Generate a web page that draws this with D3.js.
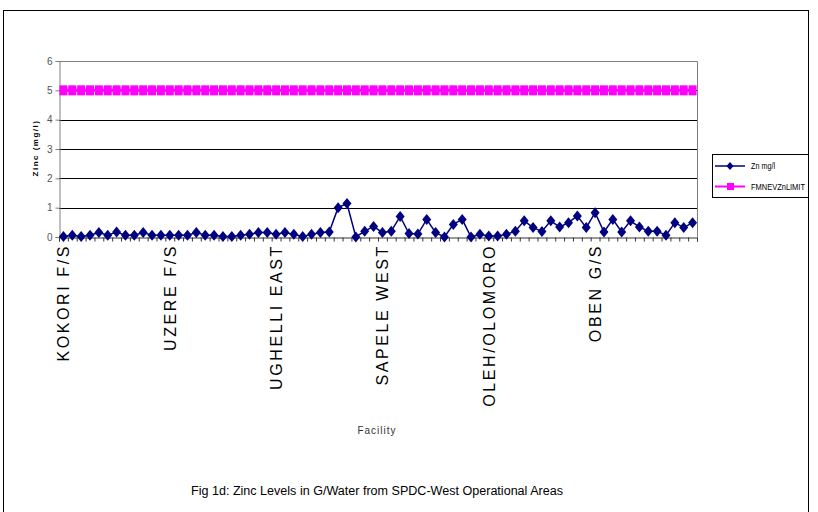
<!DOCTYPE html>
<html>
<head>
<meta charset="utf-8">
<script src="https://cdn.jsdelivr.net/npm/d3@7"></script>
<style>
  html, body { margin: 0; padding: 0; background: #fff; }
  svg { display: block; font-family: "Liberation Sans", Arial, sans-serif; }
</style>
</head>
<body>
<svg id="chart" width="818" height="512"></svg>
<script>
// ---- data ----
const facilities = ["KOKORI F/S", "UZERE F/S", "UGHELLI EAST", "SAPELE WEST", "OLEH/OLOMORO", "OBEN G/S"];
const samplesPerFacility = 12;
const zincValues = [
  0.02, 0.06, 0.02, 0.06, 0.15, 0.06, 0.17, 0.06, 0.06, 0.15, 0.06, 0.06,
  0.06, 0.06, 0.06, 0.15, 0.06, 0.06, 0.02, 0.02, 0.06, 0.09, 0.15, 0.15,
  0.09, 0.15, 0.09, 0.02, 0.09, 0.15, 0.17, 1.00, 1.14, 0.00, 0.20, 0.36,
  0.15, 0.20, 0.70, 0.12, 0.10, 0.60, 0.15, 0.00, 0.43, 0.60, 0.00, 0.09,
  0.03, 0.03, 0.09, 0.20, 0.55, 0.32, 0.19, 0.55, 0.34, 0.49, 0.72, 0.32,
  0.83, 0.17, 0.60, 0.17, 0.55, 0.34, 0.20, 0.20, 0.06, 0.49, 0.32, 0.49
];
const limitValues = [
  5,5,5,5,5,5,5,5,5,5,5,5, 5,5,5,5,5,5,5,5,5,5,5,5,
  5,5,5,5,5,5,5,5,5,5,5,5, 5,5,5,5,5,5,5,5,5,5,5,5,
  5,5,5,5,5,5,5,5,5,5,5,5, 5,5,5,5,5,5,5,5,5,5,5,5
];
const yTicks = [0, 1, 2, 3, 4, 5, 6];
const seriesNames = ["Zn mg/l", "FMNEVZnLIMIT"];
const yTitle = "Zinc  (mg/l)";
const xTitle = "Facility";
const caption = "Fig 1d: Zinc Levels in G/Water from SPDC-West Operational Areas";

// ---- layout ----
const svg = d3.select("#chart");
const plot = { left: 59, right: 697, top: 61, bottom: 237 };
const navy = "#000080", magenta = "#FF00FF";

const x = d3.scaleLinear().domain([0, zincValues.length]).range([plot.left, plot.right]);
const y = d3.scaleLinear().domain([0, 6]).range([plot.bottom, plot.top]);
const cx = i => x(i + 0.5);

// outer chart border
svg.append("rect").attr("x", 3.5).attr("y", 10.5).attr("width", 805).attr("height", 510)
  .attr("fill", "none").attr("stroke", "#000").attr("stroke-width", 1);

// gridlines
svg.append("g").selectAll("line").data(yTicks.filter(t => t > 0 && t < 6)).join("line")
  .attr("x1", plot.left).attr("x2", plot.right)
  .attr("y1", d => Math.round(y(d)) + 0.5).attr("y2", d => Math.round(y(d)) + 0.5)
  .attr("stroke", "#000").attr("stroke-width", 1);

// plot border (top & right)
svg.append("path")
  .attr("d", `M${plot.left},${plot.top + 0.5}H${plot.right + 0.5}V${plot.bottom}`)
  .attr("fill", "none").attr("stroke", "#808080").attr("stroke-width", 1);

// y axis
const yAxis = d3.axisLeft(y).tickValues(yTicks).tickSize(4).tickPadding(3).tickFormat(d3.format("d"));
const gy = svg.append("g").attr("transform", `translate(${plot.left + 0.5},0)`).call(yAxis);
gy.select(".domain").attr("stroke", "#808080");
gy.selectAll(".tick line").attr("stroke", "#808080");
gy.selectAll(".tick text").attr("font-size", 10).attr("fill", "#555")
  .attr("font-family", "Liberation Sans, Arial, sans-serif");

// x axis (ticks between categories)
const xAxis = d3.axisBottom(x).tickValues(d3.range(0, zincValues.length + 1)).tickSize(4).tickFormat("");
const gx = svg.append("g").attr("transform", `translate(0,${plot.bottom + 0.5})`).call(xAxis);
gx.select(".domain").attr("stroke", "#333");
gx.selectAll(".tick line").attr("stroke", "#333");

// x category labels (every 12th sample)
svg.append("g").selectAll("text").data(facilities).join("text")
  .attr("transform", (d, i) => `translate(${cx(i * samplesPerFacility)},244) rotate(-90)`)
  .attr("text-anchor", "end")
  .attr("dy", "0.36em")
  .attr("font-size", 16)
  .attr("letter-spacing", 2.6)
  .attr("fill", "#000")
  .text(d => d);

// limit series
const line = d3.line().x((d, i) => cx(i)).y(d => y(d));
svg.append("path").datum(limitValues).attr("d", line)
  .attr("fill", "none").attr("stroke", magenta).attr("stroke-width", 3);
svg.append("g").selectAll("rect").data(limitValues).join("rect")
  .attr("x", (d, i) => cx(i) - 4).attr("y", d => y(d) - 5)
  .attr("width", 8).attr("height", 10).attr("fill", magenta);

// zinc series
svg.append("path").datum(zincValues).attr("d", line)
  .attr("fill", "none").attr("stroke", navy).attr("stroke-width", 1.5);
const diamond = "M0,-5.5L4.5,0L0,5.5L-4.5,0Z";
svg.append("g").selectAll("path").data(zincValues).join("path")
  .attr("transform", (d, i) => `translate(${cx(i)},${y(d)})`)
  .attr("d", diamond).attr("fill", navy);

// y title
svg.append("text")
  .attr("transform", `translate(38,${(plot.top + plot.bottom) / 2 - 1}) rotate(-90)`)
  .attr("text-anchor", "middle").attr("font-size", 8).attr("font-weight", "bold")
  .attr("letter-spacing", 1.5)
  .text(yTitle);

// x title
svg.append("text").attr("x", 377).attr("y", 434)
  .attr("text-anchor", "middle").attr("font-size", 10).attr("fill", "#333")
  .attr("letter-spacing", 1)
  .text(xTitle);

// caption
svg.append("text").attr("x", 191).attr("y", 495)
  .attr("font-size", 12).attr("textLength", 372).attr("lengthAdjust", "spacingAndGlyphs")
  .attr("fill", "#000")
  .text(caption);

// legend
const lg = svg.append("g");
lg.append("rect").attr("x", 712.5).attr("y", 154.5).attr("width", 96).attr("height", 43)
  .attr("fill", "#fff").attr("stroke", "#000").attr("stroke-width", 1);
const legendRows = [
  { name: seriesNames[0], color: navy, sym: "diamond", yy: 166 },
  { name: seriesNames[1], color: magenta, sym: "square", yy: 186.5 }
];
legendRows.forEach(r => {
  lg.append("line").attr("x1", 715).attr("x2", 745).attr("y1", r.yy).attr("y2", r.yy)
    .attr("stroke", r.color).attr("stroke-width", r.sym === "square" ? 2 : 1.5);
  if (r.sym === "diamond") {
    lg.append("path").attr("transform", `translate(730,${r.yy})`).attr("d", "M0,-4L3.5,0L0,4L-3.5,0Z").attr("fill", r.color);
  } else {
    lg.append("rect").attr("x", 727).attr("y", r.yy - 3.5).attr("width", 7).attr("height", 7).attr("fill", r.color);
  }
  lg.append("text").attr("x", 751).attr("y", r.yy + 3).attr("font-size", 9)
    .attr("textLength", r.sym === "square" ? 54 : 24).attr("lengthAdjust", "spacingAndGlyphs")
    .text(r.name);
});
</script>
</body>
</html>
